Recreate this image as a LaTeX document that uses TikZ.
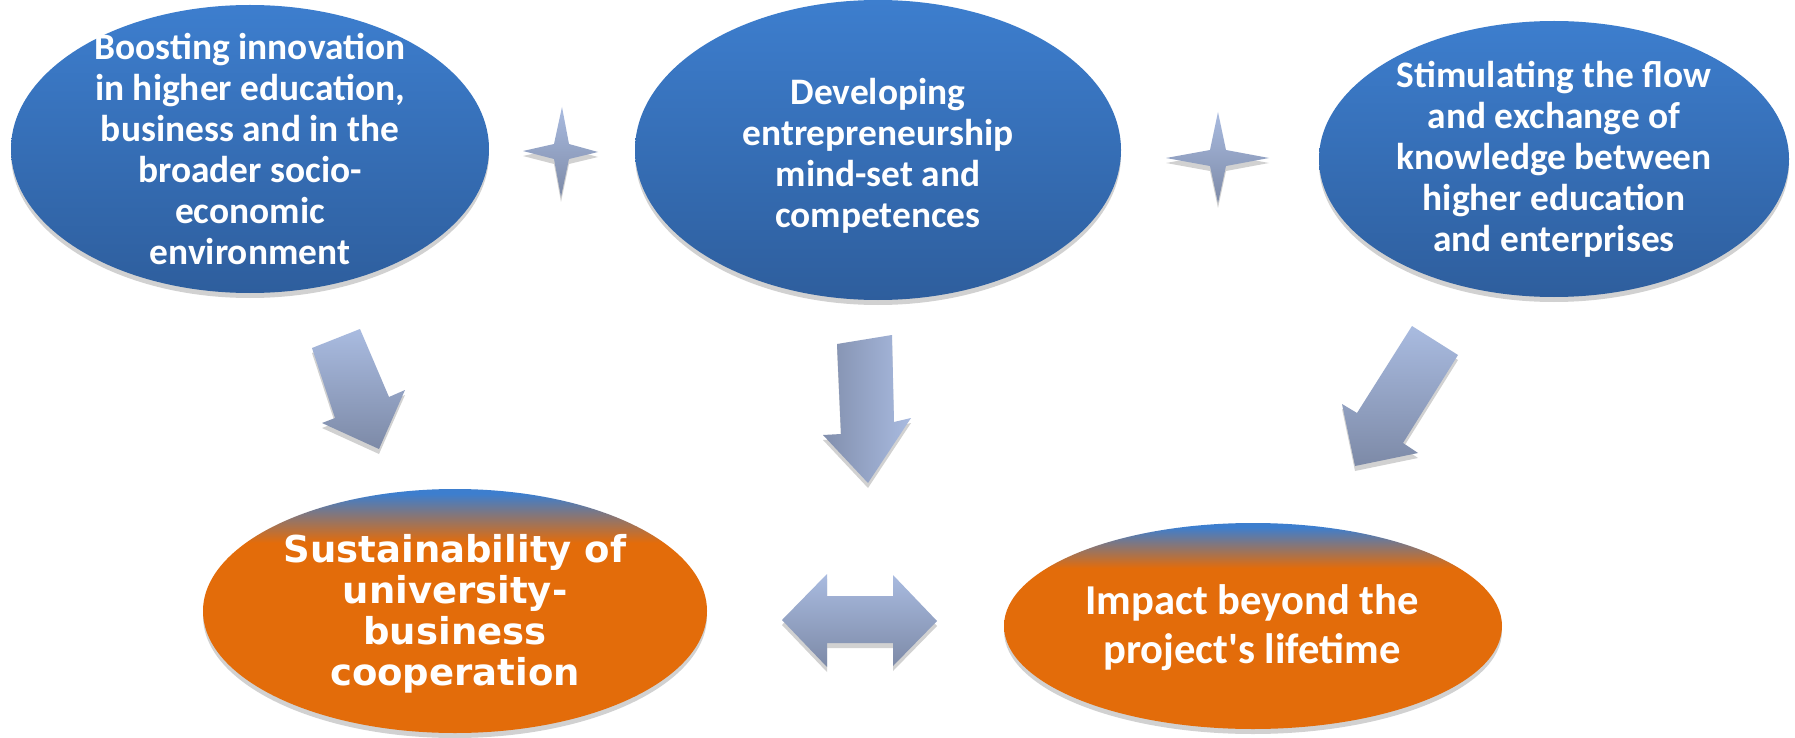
\documentclass[tikz,border=0pt]{standalone}
\usepackage{fontspec}
\setmainfont{Carlito}[Ligatures=TeXOff]
\newfontfamily\verdfont{DejaVu Sans}
\usetikzlibrary{shadows}
\definecolor{blutop}{HTML}{3D7ECE}
\definecolor{blubot}{HTML}{2E5E9D}
\definecolor{orng}{HTML}{E36C0A}
\definecolor{arlight}{HTML}{A9BBE0}
\definecolor{ardark}{HTML}{7D8AA7}
\pgfdeclareverticalshading{orngblue}{100bp}{color(0bp)=(orng); color(64bp)=(orng); color(74bp)=(blutop); color(100bp)=(blutop)}
\begin{document}
\begin{tikzpicture}[x=0.5pt,y=-0.5pt,
  shad/.style={drop shadow={shadow xshift=0pt,shadow yshift=-2.5pt,opacity=0.18,fill=black}},
  blueell/.style={top color=blutop,bottom color=blubot,shad},
  orangeell/.style={shading=orngblue,shad},
  blockarrow/.style={top color=arlight,bottom color=ardark,shad},
  txt/.style={text=white,align=center,inner sep=0pt,font=\bfseries\fontsize{18.7}{20.5}\selectfont},
  vtxt/.style={text=white,align=center,inner sep=0pt,font=\verdfont\bfseries\fontsize{18.5}{20.5}\selectfont},
  itxt/.style={text=white,align=center,inner sep=0pt,font=\bfseries\fontsize{21.3}{24.5}\selectfont}]
\useasboundingbox (0,0) rectangle (1795,738);
\fill[white] (0,0) rectangle (1795,738);
% top ellipses
\shade[blueell] (250,149) ellipse [x radius=119.5pt, y radius=72pt];
\shade[blueell] (878,150) ellipse [x radius=121.5pt, y radius=75pt];
\shade[blueell] (1554,159) ellipse [x radius=117.5pt, y radius=69pt];
% bottom ellipses
\shade[orangeell] (455,611) ellipse [x radius=126pt, y radius=61pt];
\shade[orangeell] (1253,626) ellipse [x radius=124.5pt, y radius=51.5pt];
% stars
\shade[blockarrow] (562,107) -- (569,144) -- (598,152) -- (569,159) -- (561,197) -- (554,159) -- (523,151) -- (554,144) -- cycle;
\shade[blockarrow] (1218,112) -- (1226,150) -- (1269,158) -- (1226,166) -- (1218,203) -- (1210,166) -- (1166,158) -- (1210,150) -- cycle;
% down arrows
\shade[blockarrow] (312,348) -- (360,329) -- (389,397) -- (405,390) -- (379,449) -- (322,423) -- (335,418) -- cycle;
\shade[left color=ardark!90!arlight,right color=arlight,shad] (837,344) -- (892,335) -- (894,422) -- (911,418) -- (868,483) -- (823,435) -- (841,434) -- cycle;
\shade[blockarrow] (1412,326) -- (1458,355) -- (1403,443) -- (1418,453) -- (1355,466) -- (1342,404) -- (1357,413) -- cycle;
% double arrow
\shade[blockarrow] (782,620) -- (827,574) -- (827,596) -- (893,596) -- (893,575) -- (937,621) -- (893,666) -- (893,643) -- (827,643) -- (827,667) -- cycle;
% texts
\node[txt] (boost) at (250,149) {Boosting innovation\\in higher education,\\business and in the\\broader socio-\\economic\\environment};
\node[txt] (devel) at (878,156) {Developing\\entrepreneurship\\mind-set and\\competences};
\node[txt] (stim) at (1554,159) {Stimulating the flow\\and exchange of\\knowledge between\\higher education\\and enterprises};
\node[vtxt] (sust) at (455,614) {Sustainability of\\university-\\business\\cooperation};
\node[itxt] (impact) at (1252,628) {Impact beyond the\\project's lifetime};
\end{tikzpicture}
\end{document}
